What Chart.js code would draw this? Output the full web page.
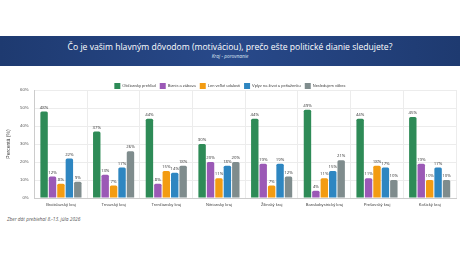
<!DOCTYPE html>
<html><head><meta charset="utf-8">
<script src="https://cdn.jsdelivr.net/npm/chart.js@4/dist/chart.umd.min.js"></script>
<style>
html,body{margin:0;padding:0;background:#fff;width:460px;height:260px;overflow:hidden;font-family:"Open Sans","DejaVu Sans",sans-serif;}
#banner{position:absolute;left:0;top:36px;width:460px;height:30px;background:linear-gradient(90deg,#1e3a70,#28498a 50%,#1e3a70);color:#fff;text-align:center;}
#t1{position:absolute;top:5px;width:100%;font-size:8.6px;}
#t2{position:absolute;top:17px;width:100%;font-size:4.8px;font-style:italic;color:#dfe6f3;}
#wrap{position:absolute;left:0;top:79px;width:460px;height:132px;}
#foot{position:absolute;left:7px;top:216px;font-size:4.8px;font-style:italic;color:#555;}
</style></head><body>
<div id="banner"><div id="t1">Čo je vašim hlavným dôvodom (motiváciou), prečo ešte politické dianie sledujete?</div><div id="t2">Kraj - porovnanie</div></div>
<div id="wrap"><canvas id="c" width="460" height="132"></canvas></div>
<div id="foot">Zber dát prebiehal 8.-13. júla 2026</div>
<script>
const categories = ["Bratislavský kraj","Trnavský kraj","Trenčiansky kraj","Nitriansky kraj","Žilinský kraj","Banskobystrický kraj","Prešovský kraj","Košický kraj"];
const seriesNames = ["Občiansky prehľad","Biznis a zábava","Len veľké udalosti","Vplyv na život a peňaženku","Nesledujem vôbec"];
const obciansky = [48,37,44,30,44,49,44,45];
const biznis = [12,13,8,20,19,4,11,19];
const velke = [8,7,15,11,7,11,18,10];
const vplyv = [22,17,14,18,19,15,17,17];
const nesledujem = [9,26,18,20,12,21,10,10];
const colors = ["#2e8b57","#9b59b6","#f39c12","#2e86c1","#7f8c8d"];
const yTicks = [0,10,20,30,40,50,60];

const valuePlugin = {
  id:'vals',
  afterDatasetsDraw(chart){
    const ctx = chart.ctx;
    ctx.save();
    ctx.font = '4.3px "Open Sans", sans-serif';
    ctx.fillStyle = '#333';
    ctx.textAlign = 'center';
    ctx.textBaseline = 'bottom';
    chart.data.datasets.forEach((ds,i)=>{
      chart.getDatasetMeta(i).data.forEach((bar,j)=>{
        ctx.fillText(ds.data[j]+'%', bar.x, bar.y-2);
      });
    });
    ctx.restore();
  }
};
const legendFit = {
  id:'legendFit',
  beforeInit(chart){
    const orig = chart.legend.fit;
    chart.legend.fit = function(){ orig.call(this); this.height = 11; };
  }
};

const allSeries = [obciansky,biznis,velke,vplyv,nesledujem];
new Chart(document.getElementById('c'),{
  type:'bar',
  data:{labels:categories,datasets:allSeries.map((d,i)=>({label:seriesNames[i],data:d,backgroundColor:colors[i],borderRadius:1.5,borderSkipped:'bottom',categoryPercentage:0.8,barPercentage:0.88}))},
  options:{
    responsive:false,animation:false,devicePixelRatio:1,
    layout:{padding:{left:4,right:4,top:0,bottom:0}},
    plugins:{
      legend:{position:'top',labels:{boxWidth:6,boxHeight:6,font:{size:4},color:'#444',padding:4},},
      tooltip:{enabled:false}
    },
    scales:{
      x:{grid:{color:'#ececec',offset:true,drawTicks:false},border:{color:'#ccc'},ticks:{font:{size:4.1},color:'#444',maxRotation:0,autoSkip:false,padding:4}},
      y:{min:0,max:60,afterBuildTicks(ax){ax.ticks=yTicks.map(v=>({value:v}));},grid:{color:'#ececec',drawTicks:false},border:{color:'#ccc'},ticks:{font:{size:4.3},color:'#555',callback:v=>v+'%',padding:6},title:{display:true,text:'Percentá (%)',font:{size:5},color:'#444',padding:2}}
    }
  },
  plugins:[legendFit,valuePlugin]
});
</script>
</body></html>
